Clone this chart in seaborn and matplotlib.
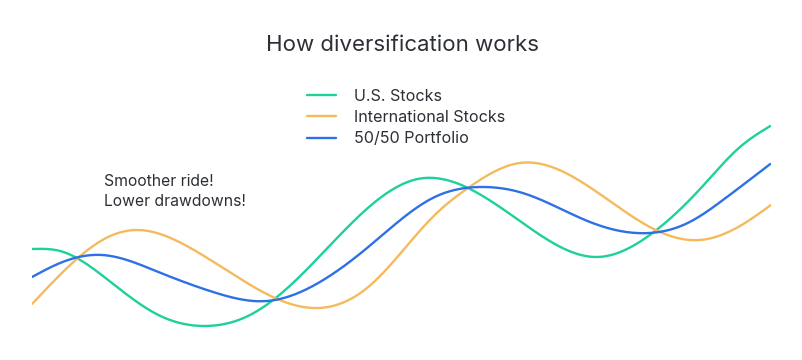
import numpy as np
import pandas as pd
import matplotlib.pyplot as plt
import seaborn as sns

# key points (time 0-100, value index)
us_time = [0.0, 3.8, 10.3, 17.1, 23.4, 29.5, 36.3, 43.0, 52.2, 59.0, 66.4, 76.5,
           83.6, 90.4, 95.8, 99.9]
us_value = [111, 109, 80, 45, 34, 45, 84, 135, 181, 172, 137, 103,
            125, 171, 213, 234]

intl_time = [0.0, 3.5, 10.3, 14.2, 20.7, 29.1, 38.0, 45.5, 54.5, 59.0, 66.0, 74.6,
             83.6, 90.4, 95.8, 100.0]
intl_value = [56, 83, 123, 130, 115, 77, 52, 73, 145, 172, 197, 177,
              133, 120, 134, 155]

mix_time = [0.0, 3.8, 9.5, 17.1, 24.5, 31.8, 38.0, 45.5, 54.5, 60.6, 66.4, 75.5,
            83.6, 89.0, 93.5, 99.9]
mix_value = [83, 97, 105, 88, 68, 59, 74, 113, 163, 173, 167, 138,
             127, 138, 160, 196]

series_names = ['U.S. Stocks', 'International Stocks', '50/50 Portfolio']
colors = ['#1dd09c', '#f4bb5e', '#2e70e6']


def smooth_curve(xk, yk, xs):
    # natural cubic spline through the key points
    xk = np.asarray(xk, float)
    yk = np.asarray(yk, float)
    n = len(xk)
    h = np.diff(xk)
    A = np.zeros((n, n))
    b = np.zeros(n)
    A[0, 0] = A[-1, -1] = 1
    for i in range(1, n - 1):
        A[i, i - 1] = h[i - 1]
        A[i, i] = 2 * (h[i - 1] + h[i])
        A[i, i + 1] = h[i]
        b[i] = 6 * ((yk[i + 1] - yk[i]) / h[i] - (yk[i] - yk[i - 1]) / h[i - 1])
    m = np.linalg.solve(A, b)
    idx = np.clip(np.searchsorted(xk, xs) - 1, 0, n - 2)
    x0, x1 = xk[idx], xk[idx + 1]
    hh = h[idx]
    return (m[idx] * (x1 - xs)**3 / (6 * hh) + m[idx + 1] * (xs - x0)**3 / (6 * hh)
            + (yk[idx] / hh - m[idx] * hh / 6) * (x1 - xs)
            + (yk[idx + 1] / hh - m[idx + 1] * hh / 6) * (xs - x0))


frames = []
for name, tk, vk in zip(series_names,
                        [us_time, intl_time, mix_time],
                        [us_value, intl_value, mix_value]):
    xs = np.linspace(tk[0], tk[-1], 800)
    frames.append(pd.DataFrame({'time': xs, 'value': smooth_curve(tk, vk, xs), 'series': name}))
df = pd.concat(frames)

sns.set_style('white')
plt.rcParams['font.family'] = ['Inter', 'DejaVu Sans']
text_color = '#2b2f36'

fig = plt.figure(figsize=(8.02, 3.6), dpi=100)
ax = fig.add_axes([32 / 802, 0, (771 - 32) / 802, 1])
sns.lineplot(data=df, x='time', y='value', hue='series', hue_order=series_names,
             palette=colors, linewidth=1.7, ax=ax, estimator=None, sort=False)
ax.set_xlim(0, 100)
ax.set_ylim(0, 360)
ax.axis('off')

sns.move_legend(ax, 'upper left', bbox_to_anchor=(307 / 802, (360 - 89) / 360),
                bbox_transform=fig.transFigure, frameon=False, title=None,
                fontsize=11.6, handlelength=1.8, handletextpad=1.12,
                labelspacing=0.38, borderpad=0, borderaxespad=0,
                labelcolor=text_color)

fig.text(403 / 802, (360 - 45) / 360, 'How diversification works',
         ha='center', va='center', fontsize=16, color=text_color)
fig.text(104 / 802, (360 - 174) / 360, 'Smoother ride!\nLower drawdowns!',
         ha='left', va='top', fontsize=11.3, color=text_color, linespacing=1.42)

fig.savefig('out.png', dpi=100, facecolor='white')
